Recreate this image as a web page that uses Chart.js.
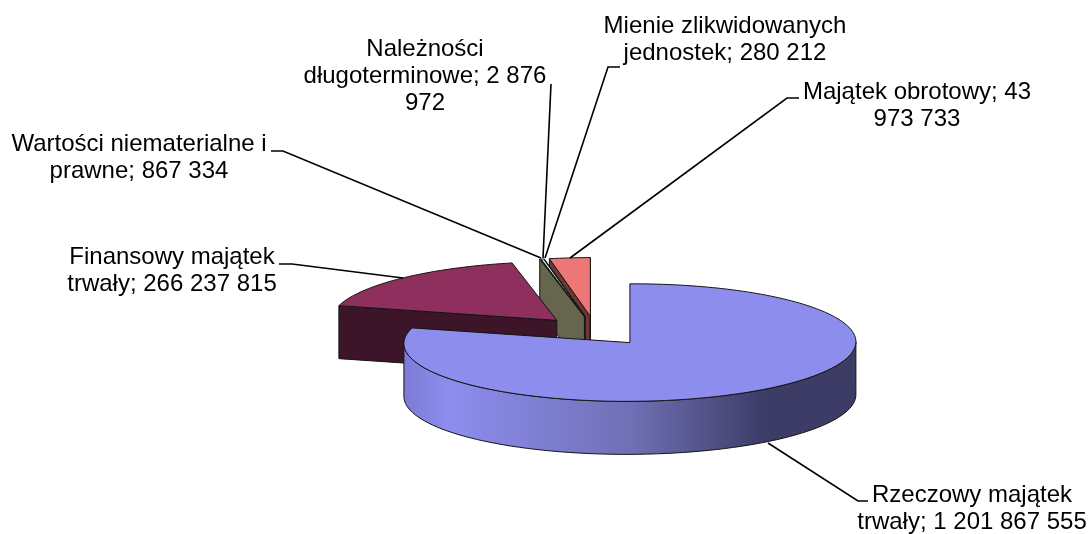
<!DOCTYPE html>
<html><head><meta charset="utf-8">
<style>html,body{margin:0;padding:0;background:#fff}#w{width:1092px;height:534px;position:relative}</style>
<script src="https://cdn.jsdelivr.net/npm/chart.js@4"></script>
</head><body><div id="w"><canvas id="c" width="1092" height="534"></canvas></div>
<script>
const categories = ["Rzeczowy majątek trwały","Finansowy majątek trwały","Wartości niematerialne i prawne","Należności długoterminowe","Mienie zlikwidowanych jednostek","Majątek obrotowy"];
const values = [1201867555,266237815,867334,2876972,280212,43973733];
const topColors = ["#8D8DEE","#8E2F5E","#EDEDBE","#BEEDED","#5F005F","#ED7777"];
const wallColors = ["#3C3C66","#3D1529","#66664F","#703535","#703535","#703535"];
const labelLines = [
 ["Rzeczowy majątek","trwały; 1 201 867 555"],
 ["Finansowy majątek","trwały; 266 237 815"],
 ["Wartości niematerialne i","prawne; 867 334"],
 ["Należności","długoterminowe; 2 876","972"],
 ["Mienie zlikwidowanych","jednostek; 280 212"],
 ["Majątek obrotowy; 43","973 733"]
];
// layout (separate from data)
const labelCenter = [[972,502],[172,264],[139,151],[425,56],[725,33],[917,99]];
const leaders = [
 [[768,443],[858,501],[868,501]],
 [[403,278],[292,264],[279,264]],
 [[541,258],[283,151],[271,151]],
 [[543,258],[551,84]],
 [[545,258],[608,67],[620,67]],
 [[570,258],[787,98],[799,98]]
];
const SQ=0.26, DEPTH=53, SK=-0.004, FS=24, LH=27, EXPLODE=56.75, R=226;
function sliceShift(a){
 const half=(a.startAngle+a.endAngle)/2;
 return [Math.cos(half)*EXPLODE,Math.sin(half)*EXPLODE];
}
function rad(a){return a.outerRadius;}
function pt(a,ang,r){
 const s=sliceShift(a);
 const lx=s[0]+Math.cos(ang)*r, ly=s[1]+Math.sin(ang)*r;
 return [a.x+lx, a.y+ly*SQ+lx*SK];
}
function facePath(ctx,a,dy){
 const n=Math.max(4,Math.ceil(a.circumference*40));
 ctx.beginPath();
 const o=pt(a,0,0);ctx.moveTo(o[0],o[1]+dy);
 for(let i=0;i<=n;i++){const p=pt(a,a.startAngle+(a.endAngle-a.startAngle)*i/n,rad(a));ctx.lineTo(p[0],p[1]+dy);}
 ctx.closePath();
}
function drawWalls(ctx,a,i){
 ctx.lineWidth=1;ctx.strokeStyle="#141414";ctx.lineJoin="round";
 const o=pt(a,0,0);
 if(Math.cos(a.startAngle)<0){
  const p=pt(a,a.startAngle,rad(a));
  ctx.beginPath();ctx.moveTo(o[0],o[1]);ctx.lineTo(p[0],p[1]);ctx.lineTo(p[0],p[1]+DEPTH);ctx.lineTo(o[0],o[1]+DEPTH);ctx.closePath();
  ctx.fillStyle=wallColors[i];ctx.fill();ctx.stroke();
 }
 if(Math.cos(a.endAngle)>0){
  const p=pt(a,a.endAngle,rad(a));
  ctx.beginPath();ctx.moveTo(o[0],o[1]);ctx.lineTo(p[0],p[1]);ctx.lineTo(p[0],p[1]+DEPTH);ctx.lineTo(o[0],o[1]+DEPTH);ctx.closePath();
  ctx.fillStyle=wallColors[i];ctx.fill();ctx.stroke();
 }
 const TAU=Math.PI*2;
 const ranges=[[a.startAngle,a.endAngle],[a.startAngle+TAU,a.endAngle+TAU],[a.startAngle-TAU,a.endAngle-TAU]];
 for(const [s0,e0] of ranges){
  const s=Math.max(s0,0),e=Math.min(e0,Math.PI);
  if(e<=s)continue;
  const n=80,top=[];
  for(let k=0;k<=n;k++){top.push(pt(a,s+(e-s)*k/n,rad(a)));}
  ctx.beginPath();
  top.forEach((p,k)=>k?ctx.lineTo(p[0],p[1]):ctx.moveTo(p[0],p[1]));
  top.slice().reverse().forEach(p=>ctx.lineTo(p[0],p[1]+DEPTH));
  ctx.closePath();
  const xl=a.x+sliceShift(a)[0]-rad(a),w=2*rad(a);
  const g=ctx.createLinearGradient(xl,0,xl+w,0);
  g.addColorStop(0,i===0?"#7C7CD4":wallColors[i]);
  g.addColorStop(0.1,topColors[i]);
  g.addColorStop(0.5,i===0?"#7070B6":topColors[i]);
  g.addColorStop(0.8,wallColors[i]);
  g.addColorStop(1,wallColors[i]);
  ctx.fillStyle=g;ctx.fill();ctx.stroke();
 }
}
const pie3d={
 id:"pie3d",
 beforeDatasetDraw(chart,args){
  const ctx=chart.ctx,arcs=args.meta.data;
  for(let i=arcs.length-1;i>=0;i--){
   const a=arcs[i];
   drawWalls(ctx,a,i);
   const s=sliceShift(a);
   ctx.save();
   ctx.translate(a.x,a.y);
   ctx.transform(1,SK,0,SQ,0,0);
   ctx.translate(-a.x+s[0],-a.y+s[1]);
   a.draw(ctx,chart.chartArea);
   ctx.restore();
   facePath(ctx,a,0);
   ctx.lineWidth=1;ctx.strokeStyle="#141414";ctx.stroke();
  }
  return false;
 },
 afterDraw(chart){
  const ctx=chart.ctx;
  ctx.save();
  ctx.strokeStyle="#000";ctx.lineWidth=1.6;ctx.lineJoin="miter";
  leaders.forEach(l=>{ctx.beginPath();l.forEach((p,k)=>k?ctx.lineTo(p[0],p[1]):ctx.moveTo(p[0],p[1]));ctx.stroke();});
  ctx.fillStyle="#000";ctx.font=FS+'px "Liberation Sans"';ctx.textAlign="center";ctx.textBaseline="alphabetic";
  labelLines.forEach((ls,i)=>ls.forEach((t,k)=>ctx.fillText(t,labelCenter[i][0],labelCenter[i][1]+k*LH)));
  ctx.restore();
 }
};
new Chart(document.getElementById("c"),{
 type:"pie",
 data:{labels:categories,datasets:[{data:values,backgroundColor:topColors,borderWidth:0,offset:0,hoverOffset:0}]},
 options:{responsive:false,animation:false,events:[],radius:R,
  layout:{padding:{left:99,top:128,right:0,bottom:0}},
  plugins:{legend:{display:false},tooltip:{enabled:false}}},
 plugins:[pie3d]
});
</script></body></html>
